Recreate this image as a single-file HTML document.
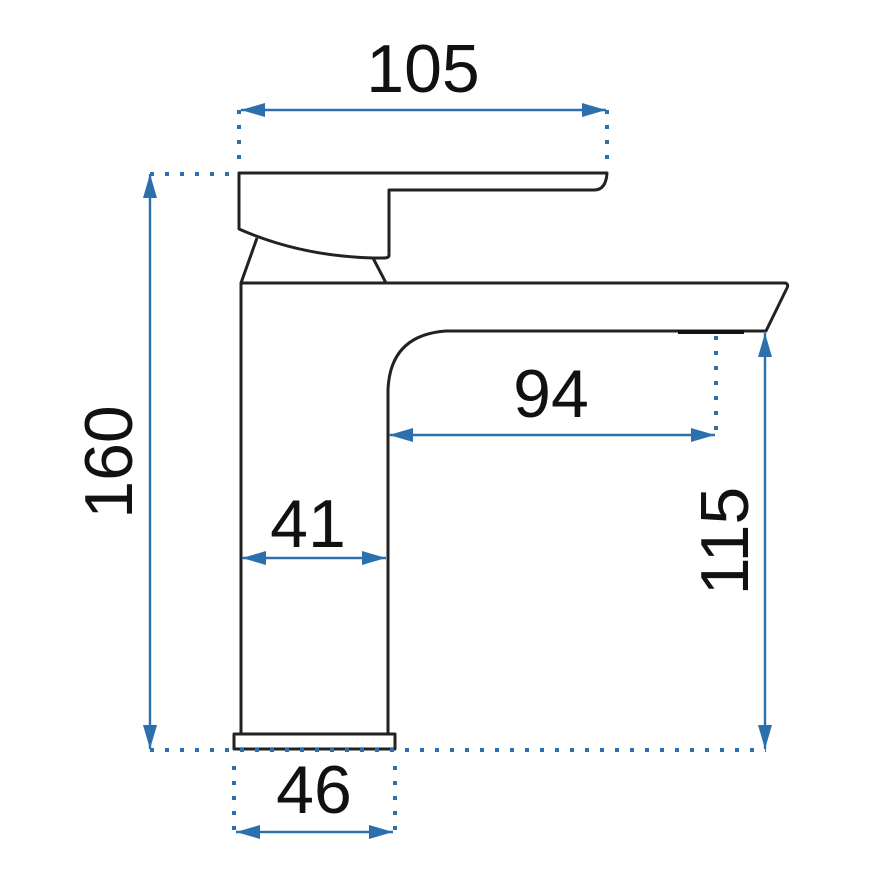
<!DOCTYPE html>
<html><head><meta charset="utf-8"><style>html,body{margin:0;padding:0;background:#fff}svg{display:block}</style></head>
<body>
<svg width="870" height="870" viewBox="0 0 870 870" xmlns="http://www.w3.org/2000/svg">
<defs>
<marker id="a" viewBox="0 0 10 10" refX="10" refY="5" markerWidth="24" markerHeight="14" markerUnits="userSpaceOnUse" orient="auto-start-reverse" preserveAspectRatio="none">
<path d="M0,0 L10,5 L0,10 Z" fill="#2b70ad"/></marker>
</defs>
<g fill="none" stroke="#222" stroke-width="3" stroke-linejoin="round">
<path d="M239,173 L607,173 Q606,190 594,190 L389,190 L389,255 Q389,258 384,258 L373,258 Q300,256 239,229 Z"/>
<path d="M257,238 L241,283"/>
<path d="M373,258 L386,283"/>
<path d="M241,733 L241,283 L785,283 Q789,284 787,288 L766,331 L446,331 Q390,335 388,390 L388,733"/>
<rect x="234" y="734" width="161" height="15"/>
</g>
<rect x="678" y="330" width="66" height="4" fill="#111"/>
<g stroke="#2b70ad" stroke-width="2.4" fill="none">
<path d="M241,110 L606,110" marker-start="url(#a)" marker-end="url(#a)"/>
<path d="M150,749 L150,174" marker-start="url(#a)" marker-end="url(#a)"/>
<path d="M765,749 L765,333" marker-start="url(#a)" marker-end="url(#a)"/>
<path d="M389,435 L715,435" marker-start="url(#a)" marker-end="url(#a)"/>
<path d="M242,558 L386,558" marker-start="url(#a)" marker-end="url(#a)"/>
<path d="M236,832 L393,832" marker-start="url(#a)" marker-end="url(#a)"/>
</g>
<g stroke="#2b70ad" stroke-width="4" stroke-dasharray="4,11" fill="none">
<path d="M150,750 L766,750"/>
<path d="M150,174 L238,174"/>
<path d="M239,110 L239,170"/>
<path d="M607,110 L607,170"/>
<path d="M716,336 L716,435"/>
<path d="M234,766 L234,832"/>
<path d="M395,766 L395,832"/>
</g>
<g font-family="Liberation Sans, sans-serif" font-size="68" fill="#111" text-anchor="middle">
<text x="423" y="92">105</text>
<text x="551" y="417">94</text>
<text x="308" y="547">41</text>
<text x="314" y="813">46</text>
<text transform="translate(132,462) rotate(-90)">160</text>
<text transform="translate(748,541) rotate(-90)">115</text>
</g>
</svg>
</body></html>
